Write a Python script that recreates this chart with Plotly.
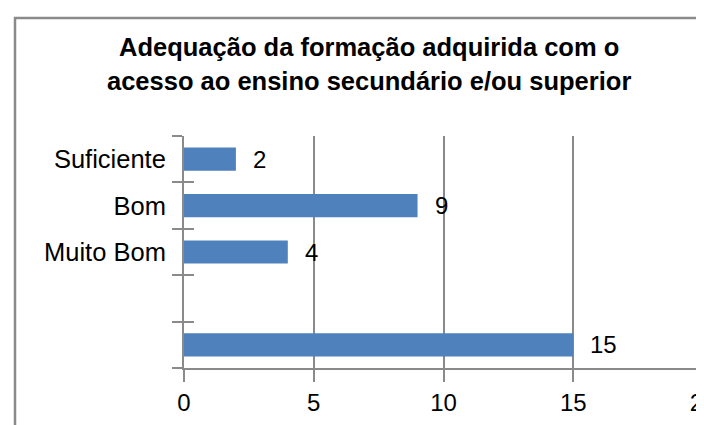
import plotly.graph_objects as go

# Data (bottom to top, as drawn)
categories = ["  ", " ", "Muito Bom", "Bom", "Suficiente"]
values = [15, None, 4, 9, 2]
x_ticks = [0, 5, 10, 15, 20]
title_lines = ["Adequação da formação adquirida com o",
               "acesso ao ensino secundário e/ou superior"]

GRAY = "#8a8a8a"
BLUE = "#4F81BD"
FONT = "Liberation Sans, Arial, sans-serif"

fig = go.Figure()
fig.add_trace(go.Bar(
    y=categories, x=values, orientation="h",
    marker=dict(color=BLUE, line=dict(width=0)),
    width=0.5, hoverinfo="skip", showlegend=False,
))
# invisible helper trace so the overlay axis gets the same categories (crossing ticks)
fig.add_trace(go.Scatter(
    y=categories, x=[0] * len(categories), yaxis="y2", mode="markers",
    marker=dict(opacity=0), hoverinfo="skip", showlegend=False,
))

for c, v in zip(categories, values):
    if v is None:
        continue
    fig.add_annotation(x=v, y=c, text=str(v), showarrow=False,
                       xanchor="left", xshift=15,
                       font=dict(family=FONT, size=24, color="black"))

fig.update_layout(
    width=704, height=425,
    margin=dict(l=176, r=9, t=128, b=65, autoexpand=False),
    paper_bgcolor="white", plot_bgcolor="white",
    font=dict(family=FONT, color="black"),
    title=dict(text="<b>" + "<br>".join(title_lines) + "</b>",
               x=0.513, xref="container", xanchor="center",
               y=0.886, yref="container", yanchor="top",
               font=dict(family=FONT, size=25.5, color="black")),
    xaxis=dict(range=[0, 20], tickvals=x_ticks, ticks="outside", ticklen=12,
               tickwidth=2, tickcolor=GRAY, showgrid=True, gridcolor=GRAY,
               gridwidth=2, showline=True, linecolor=GRAY, linewidth=2,
               zeroline=False, tickfont=dict(size=24, color="black"),
               ticklabeloverflow="allow", automargin=False, fixedrange=True),
    yaxis=dict(type="category", categoryorder="array", categoryarray=categories,
               range=[-0.5, len(categories) - 0.5],
               ticks="outside", ticklen=10, tickwidth=2, tickcolor=GRAY,
               tickson="boundaries", showline=True, linecolor=GRAY, linewidth=2,
               showgrid=False, zeroline=False, ticklabelstandoff=11,
               tickfont=dict(size=25.5, color="black"), automargin=False,
               fixedrange=True),
    yaxis2=dict(type="category", categoryorder="array", categoryarray=categories,
                range=[-0.5, len(categories) - 0.5], overlaying="y", side="left",
                ticks="inside", ticklen=10, tickwidth=2, tickcolor=GRAY,
                tickson="boundaries", showticklabels=False, showline=False,
                showgrid=False, zeroline=False, automargin=False, fixedrange=True),
    shapes=[dict(type="rect", xref="paper", yref="paper",
                 x0=(7 - 176) / 519, x1=2.0,
                 y0=-1.0, y1=(360 - 10) / 232,
                 line=dict(color=GRAY, width=2.5), fillcolor="rgba(0,0,0,0)",
                 layer="below")],
)

fig.write_html("out.html")
